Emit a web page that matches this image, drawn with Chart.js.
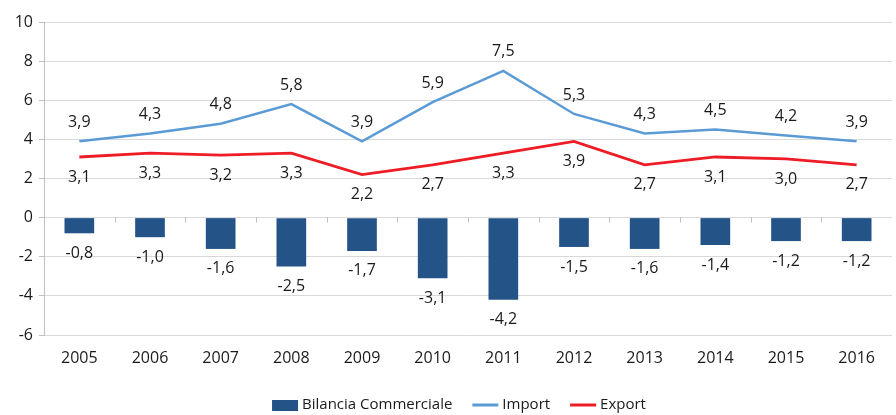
<!DOCTYPE html>
<html>
<head>
<meta charset="utf-8">
<script src="https://cdn.jsdelivr.net/npm/chart.js@4/dist/chart.umd.min.js"></script>
<style>
  html, body { margin: 0; padding: 0; background: #fff; }
  #box { width: 896px; height: 415px; }
</style>
</head>
<body>
<div id="box"><canvas id="bilanciaChart"></canvas></div>
<script>
const anni = ['2005', '2006', '2007', '2008', '2009', '2010', '2011', '2012', '2013', '2014', '2015', '2016'];
const bilancia = [-0.8, -1.0, -1.6, -2.5, -1.7, -3.1, -4.2, -1.5, -1.6, -1.4, -1.2, -1.2];
const importVal = [3.9, 4.3, 4.8, 5.8, 3.9, 5.9, 7.5, 5.3, 4.3, 4.5, 4.2, 3.9];
const exportVal = [3.1, 3.3, 3.2, 3.3, 2.2, 2.7, 3.3, 3.9, 2.7, 3.1, 3.0, 2.7];
const yTicks = [10, 8, 6, 4, 2, 0, -2, -4, -6];

const fontFam = '"Open Sans", "Liberation Sans", sans-serif';
const fmt = v => v.toFixed(1).replace('.', ',');

// etichette dei valori sopra/sotto i punti
const etichette = {
    id: 'etichette',
    afterDatasetsDraw(chart) {
        const ctx = chart.ctx;
        ctx.save();
        ctx.font = '16px ' + fontFam;
        ctx.fillStyle = '#1a1a1a';
        ctx.textAlign = 'center';
        ctx.textBaseline = 'middle';
        chart.data.datasets.forEach((ds, i) => {
            const meta = chart.getDatasetMeta(i);
            meta.data.forEach((el, j) => {
                let y = el.y;
                if (ds.label === 'Import') y -= 19;
                else y += 20;
                ctx.fillText(fmt(ds.data[j]), el.x, y);
            });
        });
        ctx.restore();
    }
};

// tacche dell'asse categorie sulla linea dello zero
const tacche = {
    id: 'tacche',
    afterDraw(chart) {
        const ctx = chart.ctx;
        const x = chart.scales.x;
        const y0 = chart.scales.y.getPixelForValue(0);
        ctx.save();
        ctx.strokeStyle = '#bfbfbf';
        ctx.lineWidth = 1;
        for (let i = 1; i < anni.length; i++) {
            const px = Math.round((x.getPixelForValue(i - 1) + x.getPixelForValue(i)) / 2) + 0.5;
            ctx.beginPath();
            ctx.moveTo(px, y0);
            ctx.lineTo(px, y0 + 5);
            ctx.stroke();
        }
        ctx.restore();
    }
};

// legenda in basso, disegnata a mano (simbolo largo + testo)
const legenda = {
    id: 'legenda',
    afterDraw(chart) {
        const ctx = chart.ctx;
        const sym = 26, gapTxt = 4, gapItem = 20;
        const y = chart.height - 10;
        ctx.save();
        ctx.font = '15px ' + fontFam;
        ctx.textBaseline = 'middle';
        const items = chart.data.datasets.map(ds => ({ ds, w: sym + gapTxt + ctx.measureText(ds.label).width }));
        const total = items.reduce((s, it) => s + it.w, 0) + gapItem * (items.length - 1);
        let x = chart.width / 2 + 11 - total / 2;
        items.forEach(it => {
            const ds = it.ds;
            if (ds.type === 'bar') {
                ctx.fillStyle = ds.backgroundColor;
                ctx.fillRect(x, y - 5, sym, 11);
            } else {
                ctx.strokeStyle = ds.borderColor;
                ctx.lineWidth = 3;
                ctx.beginPath();
                ctx.moveTo(x, y);
                ctx.lineTo(x + sym, y);
                ctx.stroke();
            }
            ctx.fillStyle = '#1a1a1a';
            ctx.fillText(ds.label, x + sym + gapTxt, y);
            x += it.w + gapItem;
        });
        ctx.restore();
    }
};

const ctx = document.getElementById('bilanciaChart').getContext('2d');
new Chart(ctx, {
    data: {
        labels: anni,
        datasets: [
            {
                type: 'bar',
                label: 'Bilancia Commerciale',
                data: bilancia,
                backgroundColor: '#245487',
                borderWidth: 0,
                barPercentage: 0.42,
                categoryPercentage: 1,
                order: 3
            },
            {
                type: 'line',
                label: 'Import',
                data: importVal,
                borderColor: '#5b9bd5',
                backgroundColor: '#5b9bd5',
                borderWidth: 2.5,
                pointRadius: 0,
                tension: 0,
                fill: false,
                order: 1
            },
            {
                type: 'line',
                label: 'Export',
                data: exportVal,
                borderColor: '#ee1c25',
                backgroundColor: '#ee1c25',
                borderWidth: 2.8,
                pointRadius: 0,
                tension: 0,
                fill: false,
                order: 2
            }
        ]
    },
    options: {
        responsive: true,
        maintainAspectRatio: false,
        animation: false,
        layout: { padding: { top: 22, right: 4, left: 0, bottom: 28 } },
        plugins: {
            tooltip: { enabled: false },
            legend: { display: false }
        },
        scales: {
            x: {
                grid: { display: false },
                border: { display: false },
                afterFit: scale => { scale.height = 52; },
                ticks: {
                    font: { size: 16, family: fontFam },
                    color: '#1a1a1a',
                    padding: 6
                }
            },
            y: {
                min: -6,
                max: 10,
                afterBuildTicks: scale => { scale.ticks = yTicks.map(v => ({ value: v })); },
                afterFit: scale => { scale.width = 44; },
                grid: { color: '#d9d9d9', tickLength: 5, tickColor: '#bfbfbf' },
                border: { color: '#bfbfbf' },
                ticks: {
                    font: { size: 16, family: fontFam },
                    color: '#1a1a1a',
                    padding: 6
                }
            }
        }
    },
    plugins: [etichette, tacche, legenda]
});
</script>
</body>
</html>
